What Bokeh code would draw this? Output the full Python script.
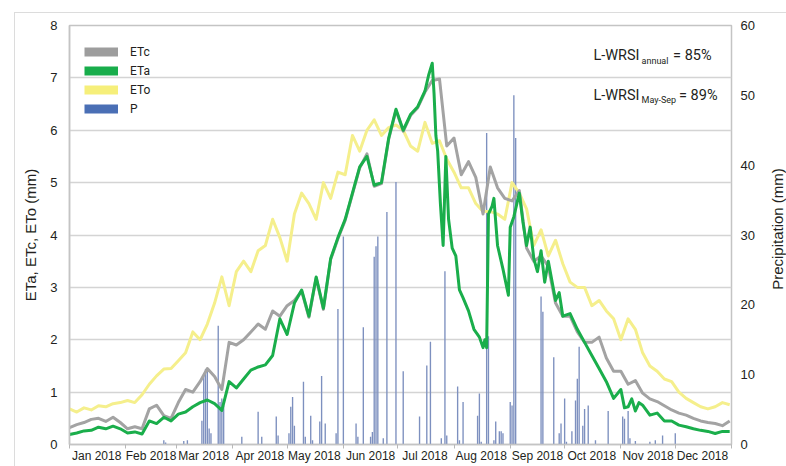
from bokeh.plotting import figure
from bokeh.layouts import row
from bokeh.models import (Range1d, LinearAxis, FixedTicker, Legend, LegendItem, Label, Div)
from bokeh.embed import file_html
from bokeh.resources import INLINE

# ---------------- data ----------------
month_labels = ["Jan 2018", "Feb 2018", "Mar 2018", "Apr 2018", "May 2018", "Jun 2018",
                "Jul 2018", "Aug 2018", "Sep 2018", "Oct 2018", "Nov 2018", "Dec 2018"]
month_starts = [0, 31, 59, 90, 120, 151, 181, 212, 243, 273, 304, 334, 365]
month_mids = [15, 45, 74, 105, 135, 166, 196, 227, 258, 288, 319, 349]

# reference evapotranspiration (every 4th day of year)
eto_day = list(range(0, 365, 4))
eto = [0.68, 0.62, 0.70, 0.66, 0.74, 0.72, 0.78, 0.80,
       0.84, 0.80, 0.95, 1.15, 1.31, 1.44, 1.45, 1.60,
       1.75, 2.15, 2.00, 2.30, 2.70, 3.20, 2.65, 3.30,
       3.50, 3.30, 3.70, 3.80, 4.30, 3.95, 3.50, 4.40,
       4.80, 4.60, 4.30, 5.00, 4.70, 5.20, 5.15, 5.90,
       5.60, 6.00, 6.20, 5.90, 6.05, 6.10, 6.00, 5.70,
       5.60, 6.15, 5.75, 5.80, 5.45, 5.20, 4.90, 4.90,
       4.60, 4.45, 4.45, 4.40, 4.30, 5.00, 4.80, 4.50,
       3.80, 4.10, 3.60, 3.90, 3.45, 3.10, 3.00, 3.00,
       2.65, 2.75, 2.55, 2.40, 2.00, 2.40, 2.20, 1.75,
       1.50, 1.40, 1.25, 1.20, 1.00, 0.88, 0.80, 0.72,
       0.68, 0.72, 0.80, 0.76]

# crop evapotranspiration (every 4th day of year)
etc_day = list(range(0, 365, 4))
etc = [0.32, 0.38, 0.42, 0.48, 0.50, 0.44, 0.52, 0.42,
       0.30, 0.34, 0.30, 0.68, 0.75, 0.55, 0.50, 0.80,
       1.05, 1.00, 1.20, 1.45, 1.30, 1.05, 1.95, 1.90,
       2.00, 2.15, 2.30, 2.20, 2.55, 2.45, 2.65, 2.75,
       2.93, 2.43, 3.18, 2.58, 3.53, 3.93, 4.28, 4.78,
       5.28, 5.55, 4.93, 4.98, 5.83, 6.38, 5.98, 6.28,
       6.43, 6.73, 6.95, 6.98, 5.70, 5.85, 5.15, 5.40,
       5.10, 4.40, 5.30, 4.90, 4.70, 4.65, 4.85, 3.75,
       3.50, 3.60, 3.40, 2.70, 2.45, 2.45, 2.15, 1.95,
       1.95, 2.05, 1.65, 1.40, 1.40, 1.15, 1.22, 0.98,
       0.87, 0.82, 0.74, 0.66, 0.60, 0.56, 0.50, 0.45,
       0.42, 0.40, 0.36, 0.45]

# actual evapotranspiration
eta_day = [0, 4, 8, 12, 16, 20, 24, 28, 32, 36, 40, 44, 48, 52, 56, 60,
           64, 68, 72, 76, 80, 84, 88, 92, 96, 100, 104, 108, 112, 116, 120, 124,
           128, 132, 136, 140, 144, 148, 152, 156, 160, 164, 168, 172, 176, 180, 184, 188,
           192, 196, 198, 200, 201, 202, 203, 204.5, 206, 207.5, 209, 211, 213, 215, 217,
           220, 223, 226, 228, 229, 230, 231, 233, 234, 236, 239, 242, 243, 245, 248,
           250, 252, 254, 256, 258, 260, 262, 264, 268, 270, 272, 276, 280, 284, 288,
           292, 296, 300, 304, 306, 308, 310, 312, 314, 316, 320, 324, 328, 332, 336,
           340, 344, 348, 352, 356, 360, 364]
eta = [0.19, 0.22, 0.26, 0.27, 0.33, 0.30, 0.35, 0.30, 0.22, 0.24, 0.20, 0.45, 0.40, 0.52, 0.45, 0.58,
       0.62, 0.72, 0.80, 0.85, 0.78, 0.65, 1.20, 1.08, 1.25, 1.42, 1.48, 1.52, 1.70, 2.40, 2.10, 2.70,
       2.95, 2.45, 3.20, 2.60, 3.55, 3.95, 4.30, 4.80, 5.30, 5.50, 4.95, 5.00, 5.85, 6.40, 6.00, 6.30,
       6.45, 6.75, 7.05, 7.28, 6.70, 5.90, 5.60, 4.60, 3.80, 5.50, 4.30, 3.75, 3.60, 2.95, 2.80,
       2.55, 2.20, 2.05, 1.85, 2.00, 1.85, 4.40, 4.55, 4.70, 3.80, 3.35, 2.85, 4.15, 4.35, 4.80,
       4.25, 3.80, 4.15, 3.55, 3.30, 3.70, 3.10, 3.50, 2.75, 2.90, 2.45, 2.50, 2.20, 1.95, 1.70,
       1.45, 1.20, 0.88, 1.05, 0.70, 0.72, 0.87, 0.64, 0.80, 0.75, 0.56, 0.60, 0.45, 0.45, 0.37,
       0.34, 0.30, 0.27, 0.25, 0.21, 0.25, 0.25]

# daily precipitation (mm)
p_day = [52, 53, 63, 65, 73, 74, 75, 76, 77, 78, 82, 83, 84, 85, 95, 104, 106, 114, 115,
         121, 122, 123, 124, 129, 130, 133, 134, 138, 139, 141, 147, 148, 151, 158, 159,
         162, 166, 167, 168, 169, 170, 173, 175, 180, 184, 193, 197, 199, 205, 207, 208,
         214, 215, 217, 225, 226, 227, 230, 231, 234, 235, 237, 238, 239, 243, 244, 245,
         246, 260, 261, 267, 270, 271, 273, 274, 277, 279, 280, 281, 283, 284, 286, 290,
         297, 305, 306, 308, 309, 312, 320, 323, 327, 334]
p_mm = [0.6, 0.3, 0.5, 0.6, 3.4, 9.8, 10.8, 10.4, 2.3, 1.6, 17.0, 6.1, 6.6, 5.6, 1.1, 4.7, 1.1, 4.0, 1.3,
        1.6, 5.4, 6.8, 2.7, 9.0, 1.1, 4.1, 0.6, 3.3, 9.8, 3.0, 1.6, 19.4, 29.8, 3.0, 1.1,
        16.8, 1.1, 1.8, 26.9, 28.4, 29.8, 0.9, 33.3, 37.6, 10.5, 4.0, 11.3, 14.7, 0.9, 24.8, 1.3,
        8.3, 0.6, 6.1, 4.1, 7.3, 0.4, 44.6, 15.5, 0.6, 3.3, 1.9, 1.9, 1.6, 6.1, 5.6, 50.0,
        43.9, 21.2, 19.0, 12.5, 1.6, 3.0, 6.6, 0.4, 1.9, 6.3, 9.4, 14.0, 2.7, 5.1, 5.6, 0.6,
        4.8, 4.0, 3.7, 4.8, 0.9, 0.5, 0.4, 0.6, 1.3, 1.6]

series_names = ["ETc", "ETa", "ETo", "P"]

# ---------------- figure ----------------
LABEL_FONT = "Liberation Sans"
NOTE_FONT = "Roboto"
TXT = "#231f20"
FRAME_CSS = "#dcdcdc"

p = figure(width=768, height=466, x_range=Range1d(0, 365), y_range=Range1d(0, 8),
           output_backend="svg", toolbar_location=None,
           min_border_left=69, min_border_right=37, min_border_top=25, min_border_bottom=22)
p.extra_y_ranges = {"p": Range1d(0, 60)}
p.background_fill_color = "white"
p.border_fill_alpha = 0
p.styles = {"background":
            f"linear-gradient({FRAME_CSS},{FRAME_CSS}) 14px 12px / 100% 1px no-repeat, "
            f"linear-gradient({FRAME_CSS},{FRAME_CSS}) 14px 12px / 1px 100% no-repeat, white"}
p.outline_line_color = "#c4c4c4"
p.outline_line_width = 1.5

# x axis
xa = p.xaxis[0]
xa.ticker = FixedTicker(ticks=month_mids, minor_ticks=month_starts)
xa.major_label_overrides = {m: lab for m, lab in zip(month_mids, month_labels)}
xa.major_tick_line_color = None
xa.major_tick_out = 0
xa.major_tick_in = 0
xa.minor_tick_line_color = "#b8b8b8"
xa.minor_tick_out = 4
xa.minor_tick_in = 0
xa.axis_line_color = "#c4c4c4"
xa.axis_line_width = 1.5
xa.major_label_text_font = LABEL_FONT
xa.major_label_text_font_size = "12px"
xa.major_label_text_color = TXT
xa.major_label_standoff = 0

# left axis
ya = p.yaxis[0]
ya.ticker = FixedTicker(ticks=list(range(0, 9)))
ya.major_tick_line_color = None
ya.minor_tick_line_color = None
ya.major_tick_out = 0
ya.major_tick_in = 0
ya.axis_line_color = "#c4c4c4"
ya.axis_line_width = 1.5
ya.major_label_text_font = LABEL_FONT
ya.major_label_text_font_size = "13px"
ya.major_label_text_color = TXT
ya.major_label_standoff = 12
ya.axis_label = "ETa, ETc, ETo (mm)"
ya.axis_label_text_font = LABEL_FONT
ya.axis_label_text_font_size = "15px"
ya.axis_label_text_font_style = "normal"
ya.axis_label_text_color = TXT
ya.axis_label_standoff = 8

# right axis (precipitation)
ra = LinearAxis(y_range_name="p", ticker=FixedTicker(ticks=[0, 10, 20, 30, 40, 50, 60]))
ra.axis_line_color = None
ra.major_tick_line_color = None
ra.minor_tick_line_color = None
ra.major_tick_out = 0
ra.major_tick_in = 0
ra.major_label_text_font = LABEL_FONT
ra.major_label_text_font_size = "13px"
ra.major_label_text_color = TXT
ra.major_label_standoff = 9
p.add_layout(ra, "right")

p.xgrid.visible = False
p.ygrid.ticker = FixedTicker(ticks=list(range(0, 9)))
p.ygrid.grid_line_color = "#d4d4d4"
p.ygrid.grid_line_width = 1.5

# ---------------- marks ----------------
p.vbar(x=p_day, top=p_mm, width=0.75, bottom=0, y_range_name="p",
       fill_color="#7d90bf", line_color=None)
p.line(eto_day, eto, color="#f5ef8c", line_width=3, line_join="round")
p.line(etc_day, etc, color="#a3a3a3", line_width=3, line_join="round")
p.line(eta_day, eta, color="#1aae4b", line_width=3, line_join="round")

# legend with block swatches (proxy renderers that draw nothing in the plot)
nan = float("nan")
items = []
for name, col in zip(series_names, ["#9d9d9d", "#18ad4b", "#f6ef7a", "#4a6fb5"]):
    r = p.line(x=[0, 0], y=[nan, nan], line_color=col, line_width=9, line_cap="butt")
    items.append(LegendItem(label=name, renderers=[r]))
legend = Legend(items=items, location=(15, 326), margin=0, padding=0,
                glyph_width=34, glyph_height=19, label_height=19, spacing=0,
                label_standoff=12, label_text_font=NOTE_FONT, label_text_font_size="12px",
                label_text_color=TXT, background_fill_alpha=0, border_line_color=None)
p.add_layout(legend)

# L-WRSI annotations
def note(x, y, text, size, align="left"):
    p.add_layout(Label(x=x, y=y, text=text, text_font=NOTE_FONT, text_font_size=size,
                       text_align=align, text_baseline="alphabetic", text_color=TXT))

note(314.3, 7.43, "L-WRSI", "14.5px", align="right")
note(315.4, 7.32, "annual", "9px")
note(354.0, 7.43, "= 85%", "14.5px", align="right")
note(314.3, 6.67, "L-WRSI", "14.5px", align="right")
note(315.4, 6.57, "May-Sep", "9px")
note(357.3, 6.67, "= 89%", "14.5px", align="right")

# right axis title, reading bottom to top, in a narrow strip beside the plot
ptitle = Div(
    text=('<div style="position:relative;width:18px;height:466px;">'
          '<div style="position:absolute;left:10px;top:229px;'
          'transform:translate(-50%,-50%) rotate(-90deg);white-space:nowrap;'
          "font-family:'Liberation Sans';font-size:15px;color:#231f20;\">"
          'Precipitation (mm)</div></div>'),
    width=18, height=466, margin=0,
    styles={"background":
            f"linear-gradient({FRAME_CSS},{FRAME_CSS}) 0px 12px / 100% 1px no-repeat, white"})

layout = row(p, ptitle, spacing=0)
open("out.html", "w").write(file_html(layout, INLINE))
